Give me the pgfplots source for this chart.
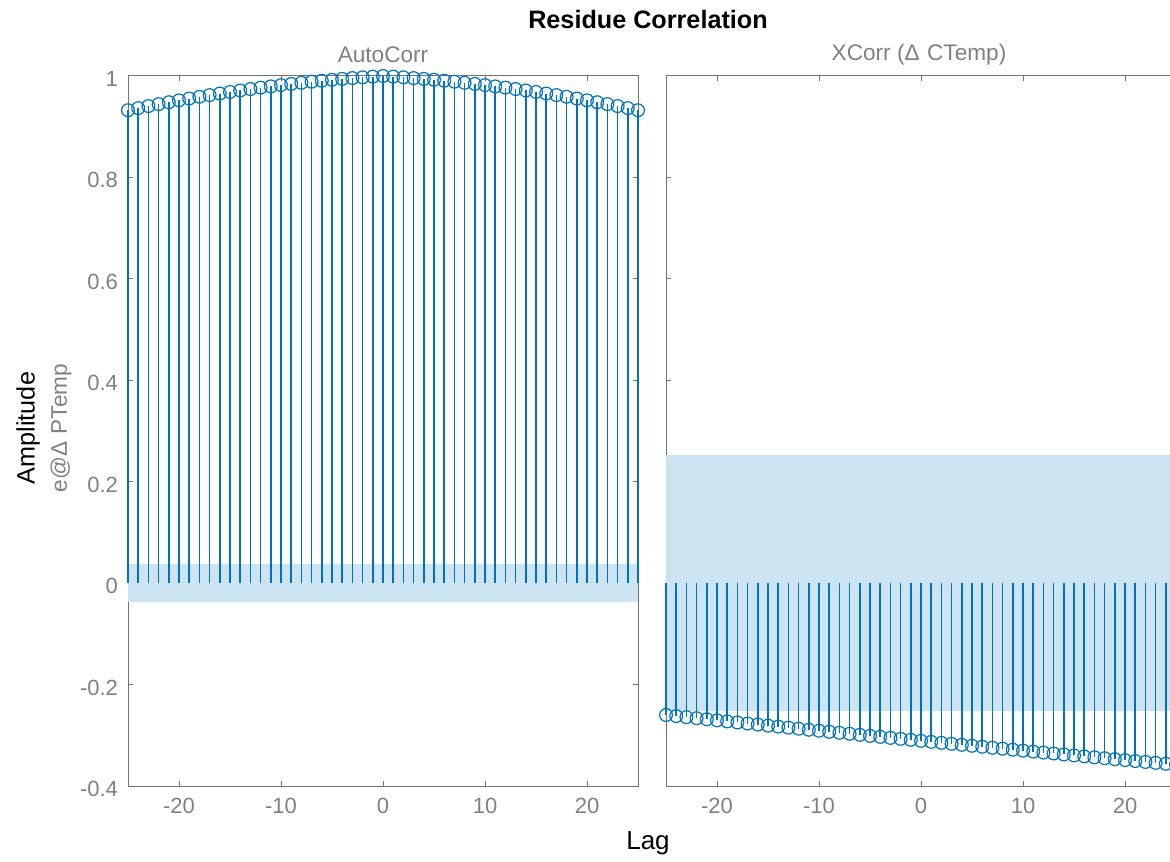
\documentclass[border=0pt]{standalone}
\usepackage{pgfplots}
\pgfplotsset{compat=1.18}
\usepackage{pgfplotstable}
\usepackage{fontspec}
\setmainfont{Liberation Sans}
\definecolor{mblue}{rgb}{0,0.447,0.741}
\definecolor{band}{rgb}{0.80,0.89,0.945}
\definecolor{axgray}{rgb}{0.45,0.45,0.45}
\definecolor{txtgray}{rgb}{0.5,0.5,0.5}

\pgfplotstableread{
lag val
-25 0.9325
-24 0.9366
-23 0.9407
-22 0.9446
-21 0.9483
-20 0.9520
-19 0.9555
-18 0.9590
-17 0.9623
-16 0.9654
-15 0.9685
-14 0.9714
-13 0.9743
-12 0.9770
-11 0.9795
-10 0.9820
-9 0.9843
-8 0.9866
-7 0.9887
-6 0.9906
-5 0.9925
-4 0.9942
-3 0.9959
-2 0.9974
-1 0.9987
0 1.0000
1 0.9987
2 0.9974
3 0.9959
4 0.9942
5 0.9925
6 0.9906
7 0.9887
8 0.9866
9 0.9843
10 0.9820
11 0.9795
12 0.9770
13 0.9743
14 0.9714
15 0.9685
16 0.9654
17 0.9623
18 0.9590
19 0.9555
20 0.9520
21 0.9483
22 0.9446
23 0.9407
24 0.9366
25 0.9325
}\autotab

\pgfplotstableread{
lag val
-25 -0.2600
-24 -0.2621
-23 -0.2642
-22 -0.2663
-21 -0.2684
-20 -0.2705
-19 -0.2726
-18 -0.2747
-17 -0.2768
-16 -0.2788
-15 -0.2809
-14 -0.2829
-13 -0.2850
-12 -0.2870
-11 -0.2891
-10 -0.2911
-9 -0.2931
-8 -0.2951
-7 -0.2971
-6 -0.2991
-5 -0.3011
-4 -0.3031
-3 -0.3051
-2 -0.3071
-1 -0.3090
0 -0.3110
1 -0.3130
2 -0.3149
3 -0.3169
4 -0.3188
5 -0.3207
6 -0.3226
7 -0.3246
8 -0.3265
9 -0.3284
10 -0.3303
11 -0.3322
12 -0.3341
13 -0.3359
14 -0.3378
15 -0.3397
16 -0.3415
17 -0.3434
18 -0.3452
19 -0.3471
20 -0.3489
21 -0.3508
22 -0.3526
23 -0.3544
24 -0.3562
25 -0.3580
}\xcorrtab

\pgfplotsset{
  mystyle/.style={
    scale only axis,
    width=255pt, height=356pt,
    anchor=south west,
    xmin=-25, xmax=25, ymin=-0.4, ymax=1,
    xtick={-20,-10,0,10,20},
    ytick={-0.4,-0.2,0,0.2,0.4,0.6,0.8,1},
    tick align=inside,
    major tick length=2.5pt,
    axis line style={axgray, line width=0.5pt},
    every tick/.style={axgray, line width=0.5pt},
    tick label style={font=\fontsize{11}{12}\selectfont, text=txtgray},
    xticklabel style={yshift=-2.5pt},
    yticklabel style={/pgf/number format/fixed, xshift=-1.5pt, yshift=-1.5pt},
    /pgf/number format/assume math mode=true,
    clip=false,
  },
  stemstyle/.style={ycomb, color=mblue, line width=0.75pt, mark=o,
    mark options={mblue, line width=0.6pt, scale=1.6}},
}

\begin{document}
\begin{tikzpicture}
\begin{axis}[mystyle, at={(64pt,37.5pt)}, height=355pt]
  \addplot[draw=none, fill=band] coordinates {(-25,-0.037) (25,-0.037) (25,0.037) (-25,0.037)} -- cycle;
  \addplot[stemstyle] table[x=lag, y=val] {\autotab};
\end{axis}
\begin{axis}[mystyle, at={(333pt,37.5pt)}, height=355pt, yticklabels={}]
  \addplot[draw=none, fill=band] coordinates {(-25,-0.253) (25,-0.253) (25,0.253) (-25,0.253)} -- cycle;
  \addplot[stemstyle] table[x=lag, y=val] {\xcorrtab};
\end{axis}
\node[font=\bfseries\fontsize{12.6}{14}\selectfont] at (324pt,420.5pt) {Residue Correlation};
\node[font=\fontsize{11.3}{13}\selectfont, text=txtgray] at (191.5pt,403pt) {AutoCorr};
\node[font=\fontsize{11.3}{13}\selectfont, text=txtgray] at (459.5pt,403pt) {XCorr (Δ\,\,CTemp)};
\node[font=\fontsize{13}{15}\selectfont] at (324pt,9pt) {Lag};
\node[font=\fontsize{12.6}{14}\selectfont, rotate=90] at (14pt,216.5pt) {Amplitude};
\node[font=\fontsize{11.3}{13}\selectfont, text=txtgray, rotate=90] at (30.5pt,216.5pt) {e@Δ\,\,PTemp};
\pgfresetboundingbox
\useasboundingbox (0,0) rectangle (585pt,430.5pt);
\end{tikzpicture}
\end{document}
